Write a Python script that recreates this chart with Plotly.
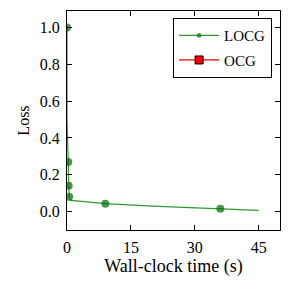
import plotly.graph_objects as go

# LOCG series (time in seconds, loss)
locg_time = [0.0, 0.0, 0.3, 0.4, 0.5, 0.9, 9.0, 20.0, 36.0, 45.0]
locg_loss = [1.0, 0.5, 0.27, 0.14, 0.08, 0.061, 0.043, 0.03, 0.016, 0.007]
locg_marked = [True, False, True, True, True, False, True, False, True, False]

# OCG series (not visible in plotted range)
ocg_time = [None]
ocg_loss = [None]

x_ticks = [0, 15, 30, 45]
y_ticks = [0.0, 0.2, 0.4, 0.6, 0.8, 1.0]

SERIF = "Liberation Serif"

fig = go.Figure()
fig.add_trace(go.Scatter(
    x=locg_time, y=locg_loss, mode="lines+markers", name="LOCG",
    legendgroup="a",
    line=dict(color="#2e9a2e", width=1.2),
    marker=dict(color="#006a00", size=[8 if m else 0 for m in locg_marked],
                line=dict(width=0)),
))
fig.add_trace(go.Scatter(
    x=ocg_time, y=ocg_loss, mode="lines+markers", name="OCG",
    legendgroup="b",
    line=dict(color="red", width=1.2),
    marker=dict(color="red", symbol="square", size=8, line=dict(color="black", width=1)),
))

axis_common = dict(
    showline=True, linecolor="black", linewidth=1.2, mirror="ticks",
    ticks="inside", ticklen=5, tickcolor="black", showgrid=False, zeroline=False,
    automargin=False, ticklabelstandoff=3,
    tickfont=dict(family=SERIF, size=16, color="black"),
)
fig.update_xaxes(range=[0, 50], tickvals=x_ticks, ticktext=[str(v) for v in x_ticks],
                 title=dict(text="Wall-clock time (s)", font=dict(family=SERIF, size=18, color="black"),
                            standoff=4),
                 **axis_common)
fig.update_yaxes(range=[-0.1, 1.09], tickvals=y_ticks, ticktext=[f"{v:.1f}" for v in y_ticks],
                 title=dict(text="Loss", font=dict(family=SERIF, size=16, color="black"),
                            standoff=6),
                 **axis_common)
fig.update_layout(
    width=291, height=291,
    margin=dict(l=67, r=11, t=11, b=61),
    plot_bgcolor="white", paper_bgcolor="white",
    legend=dict(x=0.962, y=0.968, xanchor="right", yanchor="top",
                bordercolor="black", borderwidth=1.2, bgcolor="white",
                font=dict(family=SERIF, size=15, color="black"),
                itemwidth=40, traceorder="grouped", tracegroupgap=2),
    showlegend=True,
)
fig.write_html("out.html", config={"displayModeBar": False},
               post_script="document.body.style.margin='0';")
